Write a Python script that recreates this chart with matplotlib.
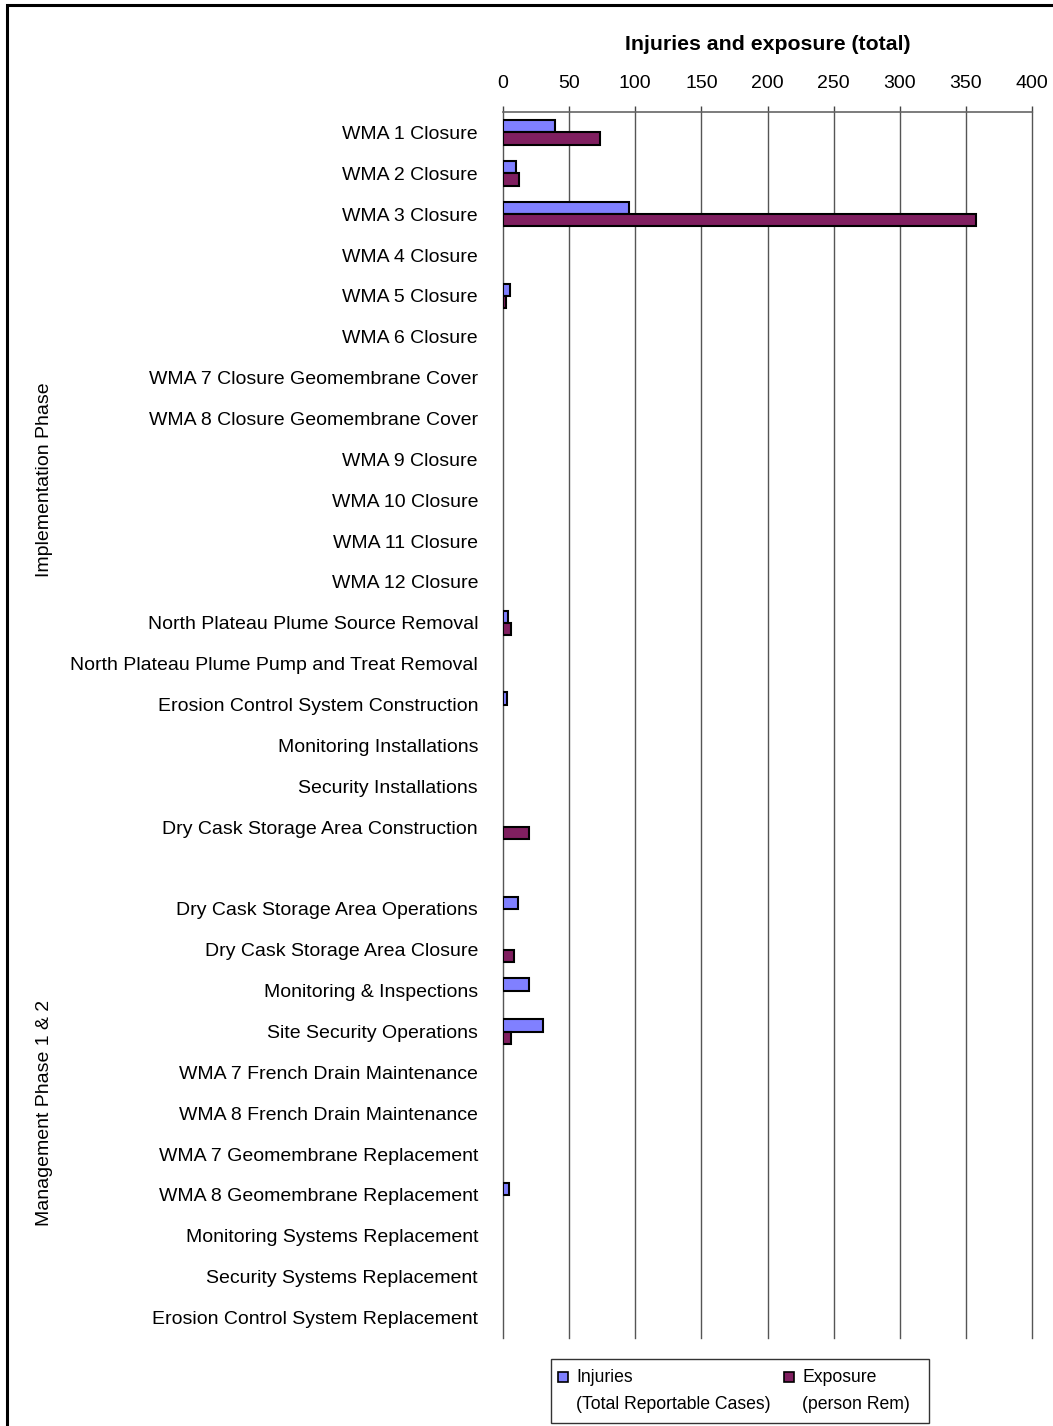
import numpy as np
import matplotlib
matplotlib.use("Agg")
import matplotlib.pyplot as plt
from matplotlib.patches import Rectangle

plt.rcParams['font.family'] = ['Liberation Sans', 'DejaVu Sans']

# data (0 = no bar drawn)
categories = [
    "WMA 1 Closure", "WMA 2 Closure", "WMA 3 Closure", "WMA 4 Closure",
    "WMA 5 Closure", "WMA 6 Closure", "WMA 7 Closure Geomembrane Cover",
    "WMA 8 Closure Geomembrane Cover", "WMA 9 Closure", "WMA 10 Closure",
    "WMA 11 Closure", "WMA 12 Closure", "North Plateau Plume Source Removal",
    "North Plateau Plume Pump and Treat Removal",
    "Erosion Control System Construction", "Monitoring Installations",
    "Security Installations", "Dry Cask Storage Area Construction",
    "",
    "Dry Cask Storage Area Operations", "Dry Cask Storage Area Closure",
    "Monitoring & Inspections", "Site Security Operations",
    "WMA 7 French Drain Maintenance", "WMA 8 French Drain Maintenance",
    "WMA 7 Geomembrane Replacement", "WMA 8 Geomembrane Replacement",
    "Monitoring Systems Replacement", "Security Systems Replacement",
    "Erosion Control System Replacement",
]
injuries = [39, 10, 95.5, 0, 5.3, 0, 0, 0, 0, 0, 0, 0, 4, 0, 2.8, 0, 0, 0,
            0,
            11.3, 0, 19.4, 30.5, 0, 0, 0, 4.3, 0, 0, 0]
exposure = [73.3, 12.3, 358, 0, 2.5, 0, 0, 0, 0, 0, 0, 0, 5.8, 0, 0, 0, 0, 19.7,
            0,
            0, 8.6, 0, 5.8, 0, 0, 0, 0, 0, 0, 0]
groups = ["Implementation Phase", "Management Phase 1 & 2"]
group_ranges = [(0, 17), (19, 29)]
xticks = [0, 50, 100, 150, 200, 250, 300, 350, 400]

inj_color = '#8080FF'
exp_color = '#801F60'

W, H = 1053, 1426
fig = plt.figure(figsize=(W / 100, H / 100), dpi=100)

def px(x0, y0, x1, y1):
    return [x0 / W, 1 - y1 / H, (x1 - x0) / W, (y1 - y0) / H]

ax = fig.add_axes(px(503, 112, 1032, 1338))

y = np.arange(len(categories))
inj = np.array(injuries, dtype=float)
exp = np.array(exposure, dtype=float)
m1 = inj > 0
m2 = exp > 0
ax.barh(y[m1] - 0.15, inj[m1], height=0.3, color=inj_color,
        edgecolor='black', linewidth=1.5, zorder=3)
ax.barh(y[m2] + 0.15, exp[m2], height=0.3, color=exp_color,
        edgecolor='black', linewidth=1.5, zorder=3)

ax.set_xlim(0, 400)
ax.set_ylim(len(categories) - 0.5, -0.5)
ax.set_xticks(xticks)
ax.xaxis.tick_top()
ax.tick_params(axis='x', length=4.5, width=1, color='#444444', pad=10,
               labelsize=14)
ax.set_yticks(y)
ax.set_yticklabels(categories)
ax.tick_params(axis='y', length=0, pad=18, labelsize=14)
ax.grid(axis='x', color='#555555', linewidth=1, zorder=0)
for gl in ax.get_xgridlines():
    gl.set_clip_on(False)
ax.set_axisbelow(True)
for s in ['left', 'right', 'bottom']:
    ax.spines[s].set_visible(False)
ax.spines['top'].set_color('#666666')
ax.spines['top'].set_linewidth(1.2)

fig.text(767.5 / W, 1 - 44 / H, "Injuries and exposure (total)",
         fontsize=15.3, fontweight='bold', ha='center', va='center')

# group labels on the left
for name, (a, b) in zip(groups, group_ranges):
    yc = (a + b) / 2
    yfig = fig.transFigure.inverted().transform(ax.transData.transform((0, yc)))[1]
    fig.text(45 / W, yfig, name, rotation=90, fontsize=14,
             ha='center', va='center')

# legend box
fig.patches.append(Rectangle((551 / W, 1 - 1423 / H), (929 - 551) / W,
                             (1423 - 1359) / H, transform=fig.transFigure,
                             facecolor='white', edgecolor='#333333',
                             linewidth=1))
for x0, col, lab in [(558, inj_color, "Injuries\n(Total Reportable Cases)"),
                     (784, exp_color, "Exposure\n(person Rem)")]:
    fig.patches.append(Rectangle((x0 / W, 1 - 1382 / H), 10 / W, 10 / H,
                                 transform=fig.transFigure, facecolor=col,
                                 edgecolor='black', linewidth=1.2))
    fig.text((x0 + 18) / W, 1 - 1369 / H, lab, fontsize=12.7, ha='left',
             va='top', linespacing=1.75)

# outer frame
fig.patches.append(Rectangle((7 / W, -0.05), 1.1, 1 - 5 / H + 0.05,
                             transform=fig.transFigure, fill=False,
                             edgecolor='black', linewidth=2.2))

fig.savefig("out.png", dpi=100)
